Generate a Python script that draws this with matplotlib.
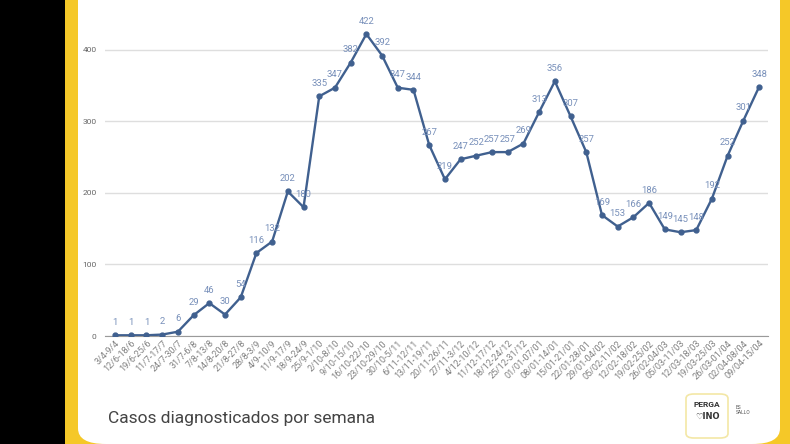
import numpy as np
import matplotlib.pyplot as plt
from matplotlib.patches import Rectangle, FancyBboxPatch

plt.rcParams['font.family'] = ['Roboto', 'DejaVu Sans']

semanas = ['3/4-9/4', '12/6-18/6', '19/6-25/6', '11/7-17/7', '24/7-30/7', '31/7-6/8',
           '7/8-13/8', '14/8-20/8', '21/8-27/8', '28/8-3/9', '4/9-10/9', '11/9-17/9',
           '18/9-24/9', '25/9-1/10', '2/10-8/10', '9/10-15/10', '16/10-22/10',
           '23/10-29/10', '30/10-5/11', '6/11-12/11', '13/11-19/11', '20/11-26/11',
           '27/11-3/12', '4/12-10/12', '11/12-17/12', '18/12-24/12', '25/12-31/12',
           '01/01-07/01', '08/01-14/01', '15/01-21/01', '22/01-28/01', '29/01-04/02',
           '05/02-11/02', '12/02-18/02', '19/02-25/02', '26/02-04/03', '05/03-11/03',
           '12/03-18/03', '19/03-25/03', '26/03-01/04', '02/04-08/04', '09/04-15/04']
casos = [1, 1, 1, 2, 6, 29, 46, 30, 54, 116, 132, 202, 180, 335, 347, 382, 422,
         392, 347, 344, 267, 219, 247, 252, 257, 257, 269, 313, 356, 307, 257, 169,
         153, 166, 186, 149, 145, 148, 192, 252, 301, 348]

fig = plt.figure(figsize=(7.9, 4.44), dpi=100)

# marco: negro a la izquierda, borde amarillo, panel blanco
fig.patches.append(Rectangle((0, 0), 1, 1, transform=fig.transFigure,
                             facecolor='#f5c828', edgecolor='none', zorder=-3))
fig.patches.append(Rectangle((0, 0), 65 / 790, 1, transform=fig.transFigure,
                             facecolor='black', edgecolor='none', zorder=-2))
fig.patches.append(FancyBboxPatch((78 / 790, 0), 702 / 790, 1.2,
                                  boxstyle='round,pad=0,rounding_size=0.035',
                                  transform=fig.transFigure, facecolor='white',
                                  edgecolor='none', zorder=-1))

ax = fig.add_axes([105 / 790, 1 - 336 / 444, 663 / 790, 322 / 444])
ax.set_facecolor('none')
x = np.arange(len(casos))
ax.plot(x, casos, color='#40608f', lw=1.7, marker='o', ms=3.5, zorder=3)

for xi, v in zip(x, casos):
    ax.annotate(str(v), (xi, v), xytext=(0, 6), textcoords='offset points',
                ha='center', va='bottom', fontsize=6.8, color='#7890ba')

ax.set_xlim(-0.64, 41.57)
ax.set_ylim(0, 450)
ax.set_yticks([0, 100, 200, 300, 400])
ax.yaxis.grid(True, color='#dedede', lw=1)
ax.set_axisbelow(True)
for s in ['top', 'right', 'left']:
    ax.spines[s].set_visible(False)
ax.spines['bottom'].set_color('#9a9a9a')
ax.tick_params(axis='y', length=0, labelsize=6, labelcolor='#666666', pad=6)
ax.tick_params(axis='x', length=0, labelsize=6.5, labelcolor='#808080', pad=2)
ax.set_xticks(x)
ax.set_xticklabels(semanas, rotation=45, ha='right', rotation_mode='anchor')

fig.text(108 / 790, 1 - 418 / 444, 'Casos diagnosticados por semana',
         fontsize=12.5, color='#444444', va='center', ha='left')

# logo
fig.patches.append(FancyBboxPatch((686 / 790, 6 / 444), 42 / 790, 44 / 444,
                                  boxstyle='round,pad=0,rounding_size=0.01',
                                  transform=fig.transFigure, facecolor='white',
                                  edgecolor='#f3e7a6', lw=1.2))
fig.text(707 / 790, 1 - 404 / 444, 'PERGA', fontsize=6, fontweight='bold',
         color='#333333', ha='center', va='center')
fig.text(707 / 790, 1 - 416 / 444, '♡INO', fontsize=6, fontweight='bold',
         color='#333333', ha='center', va='center',
         family=['DejaVu Sans'])
fig.text(736 / 790, 1 - 410 / 444, 'ES\nSALLO', fontsize=3.5,
         color='#555555', ha='left', va='center')

fig.savefig('out.png', dpi=100)
